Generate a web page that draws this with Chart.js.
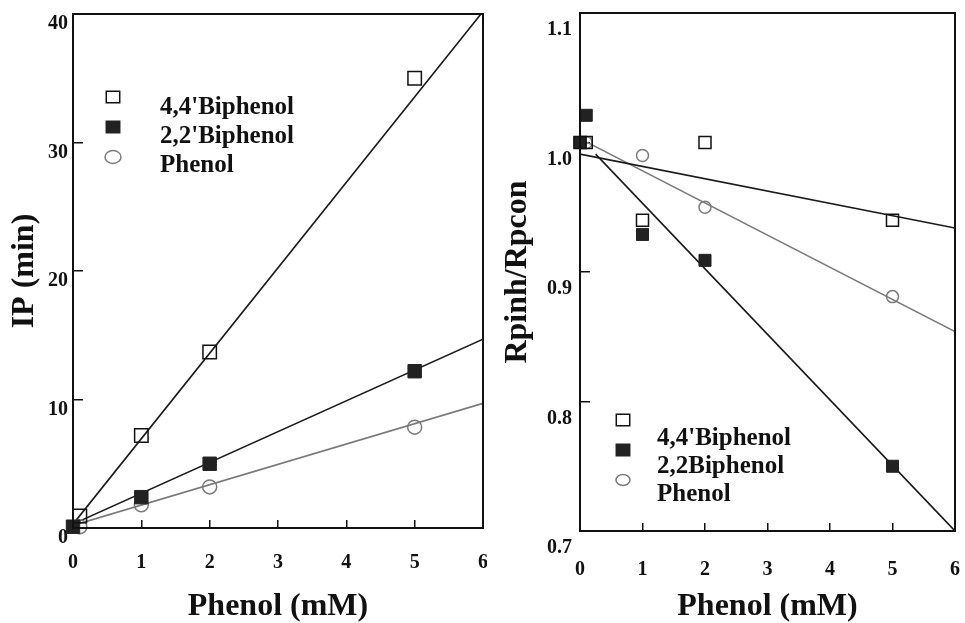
<!DOCTYPE html>
<html>
<head>
<meta charset="utf-8">
<script src="https://cdn.jsdelivr.net/npm/chart.js@4.4.1/dist/chart.umd.min.js"></script>
<style>
  html, body { margin: 0; padding: 0; background: #fff; }
  canvas { position: absolute; top: 0; }
  #left { left: 0; }
  #right { left: 487px; }
</style>
</head>
<body>
<canvas id="left" width="487" height="623"></canvas>
<canvas id="right" width="478" height="623"></canvas>
<script>
// ---- data: left panel, induction period (min) vs phenol concentration (mM)
const ipDoses44 = [0.1, 1, 2, 5];
const ipValues44 = [0.93, 7.2, 13.7, 35.0];
const ipDoses22 = [0, 1, 2, 5];
const ipValues22 = [0.1, 2.4, 5.0, 12.2];
const ipDosesPh = [0.1, 1, 2, 5];
const ipValuesPh = [0.1, 1.8, 3.2, 7.85];
// fitted lines, [x, y] end points
const ipFit44 = [[0, 0.3], [6, 40.2]];
const ipFit22 = [[0, 0.3], [6, 14.7]];
const ipFitPh = [[0, 0.2], [6, 9.7]];
const ipLabels = ["4,4'Biphenol", "2,2'Biphenol", 'Phenol'];

// ---- data: right panel, Rpinh/Rpcon vs phenol concentration (mM)
const rDoses44 = [0, 0.1, 1, 2, 5];
const rValues44 = [1.0, 1.0, 0.94, 1.0, 0.94];
const rDoses22 = [0, 0.1, 1, 2, 5];
const rValues22 = [1.0, 1.021, 0.929, 0.909, 0.75];
const rDosesPh = [0.1, 1, 2, 5];
const rValuesPh = [1.0, 0.99, 0.95, 0.881];
const rFit44 = [[0, 0.991], [6, 0.934]];
const rFit22 = [[0.25, 0.991], [6, 0.70]];
const rFitPh = [[0, 1.003], [6, 0.854]];
const rLabels = ["4,4'Biphenol", '2,2Biphenol', 'Phenol'];

const xTickValues = [0, 1, 2, 3, 4, 5, 6];

const SERIF = "'Liberation Serif', 'Times New Roman', serif";
const INK = '#111';
const GREY = '#7a7a7a';

const toPoints = (xs, ys) => xs.map((x, i) => ({ x, y: ys[i] }));
const toLine = (pairs) => pairs.map(([x, y]) => ({ x, y }));

function markerSets(labels, d44, v44, d22, v22, dPh, vPh, sq, circ) {
    return [
        { label: labels[0], data: toPoints(d44, v44), pointStyle: 'rect', pointRadius: sq,
          backgroundColor: 'rgba(0,0,0,0)', borderColor: INK, borderWidth: 1.5, clip: false },
        { label: labels[1], data: toPoints(d22, v22), pointStyle: 'rect', pointRadius: sq,
          backgroundColor: '#222', borderColor: '#222', borderWidth: 1, clip: false },
        { label: labels[2], data: toPoints(dPh, vPh), pointStyle: 'circle', pointRadius: circ,
          backgroundColor: 'rgba(0,0,0,0)', borderColor: GREY, borderWidth: 1.5, clip: false }
    ];
}

function fitSets(f44, f22, fPh) {
    return [f44, f22, fPh].map((f, i) => ({
        label: 'fit' + i,
        data: toLine(f),
        showLine: true,
        pointRadius: 0,
        borderColor: i === 2 ? GREY : '#1a1a1a',
        borderWidth: 1.6
    }));
}

// box around the plot area
const framePlugin = {
    id: 'frame',
    afterDraw(chart) {
        const { ctx, chartArea: a } = chart;
        ctx.save();
        ctx.strokeStyle = INK;
        ctx.lineWidth = 2;
        ctx.strokeRect(a.left, a.top, a.right - a.left, a.bottom - a.top);
        ctx.restore();
    }
};

// legend drawn inside the plot, markers offset above the text lines
const sideLegend = {
    id: 'sideLegend',
    afterDatasetsDraw(chart, args, opts) {
        const ctx = chart.ctx;
        ctx.save();
        for (let i = 0; i < 3; i++) {
            const ds = chart.data.datasets[i];
            const x = opts.markerX, y = opts.markerY[i], r = opts.markerR[i];
            ctx.beginPath();
            if (ds.pointStyle === 'rect') {
                const h = r * Math.SQRT1_2;
                ctx.rect(x - h, y - h * 0.85, 2 * h, 2 * h * 0.85);
            } else {
                ctx.ellipse(x, y, r, r * 0.8, 0, 0, Math.PI * 2);
            }
            ctx.fillStyle = ds.backgroundColor;
            ctx.strokeStyle = ds.borderColor;
            ctx.lineWidth = 1.5;
            ctx.fill();
            ctx.stroke();

            ctx.fillStyle = INK;
            ctx.font = 'bold ' + opts.fontSize + 'px ' + SERIF;
            ctx.textBaseline = 'middle';
            ctx.textAlign = 'left';
            ctx.fillText(ds.label, opts.textX, opts.textY[i]);
        }
        ctx.restore();
    }
};

// tick marks point into the plot (negative tickLength); label gaps come from padding,
// so the scale's own end paddings are reset to keep the plot area where it belongs
function axisX(height, pad) {
    return {
        type: 'linear', min: 0, max: 6,
        afterBuildTicks: (s) => { s.ticks = xTickValues.map(v => ({ value: v })); },
        ticks: { color: INK, font: { family: SERIF, size: 20, weight: 'bold' }, padding: pad },
        grid: { drawOnChartArea: false, tickLength: -8, color: INK, lineWidth: 1.5 },
        border: { color: INK, width: 2 },
        title: { display: true, text: 'Phenol (mM)', color: INK, padding: 0,
                 font: { family: SERIF, size: 32, weight: 'bold', lineHeight: 1 } },
        afterFit: (s) => { s.height = height; s.paddingLeft = 0; s.paddingRight = 0; }
    };
}

function axisY(min, max, step, width, title, titlePad, labelOffset, pad, fmt) {
    return {
        type: 'linear', min, max,
        ticks: { stepSize: step, color: INK, labelOffset, padding: pad,
                 font: { family: SERIF, size: 20, weight: 'bold' }, callback: fmt },
        grid: { drawOnChartArea: false, tickLength: -10, color: INK, lineWidth: 1.5 },
        border: { color: INK, width: 2 },
        title: { display: true, text: title, color: INK, padding: { top: titlePad },
                 font: { family: SERIF, size: 32, weight: 'bold', lineHeight: 1 } },
        afterFit: (s) => { s.width = width; s.paddingTop = 0; s.paddingBottom = 0; }
    };
}

const common = {
    responsive: false,
    animation: false,
    events: [],
    plugins: { legend: { display: false }, tooltip: { enabled: false } }
};

new Chart(document.getElementById('left'), {
    type: 'scatter',
    data: {
        datasets: markerSets(ipLabels, ipDoses44, ipValues44, ipDoses22, ipValues22,
                             ipDosesPh, ipValuesPh, 9.5, 7)
            .concat(fitSets(ipFit44, ipFit22, ipFitPh))
    },
    options: {
        ...common,
        layout: { autoPadding: false, padding: { top: 14, right: 4, bottom: 0, left: 0 } },
        scales: {
            x: axisX(95, 31),
            y: axisY(0, 40, 10, 73, 'IP (min)', 9, 10, 15, (v) => v)
        },
        plugins: {
            ...common.plugins,
            sideLegend: { markerX: 113, markerY: [97, 127, 157], markerR: [9.5, 9.5, 8],
                          textX: 160, textY: [108, 137, 166], fontSize: 25 }
        }
    },
    plugins: [framePlugin, sideLegend]
});

new Chart(document.getElementById('right'), {
    type: 'scatter',
    data: {
        datasets: markerSets(rLabels, rDoses44, rValues44, rDoses22, rValues22,
                             rDosesPh, rValuesPh, 8.5, 6)
            .concat(fitSets(rFit44, rFit22, rFitPh))
    },
    options: {
        ...common,
        layout: { autoPadding: false, padding: { top: 13, right: 10, bottom: 0, left: 0 } },
        scales: {
            x: axisX(92, 35),
            y: axisY(0.7, 1.1, 0.1, 93, 'Rpinh/Rpcon', 15, 17, 18, (v) => v.toFixed(1))
        },
        plugins: {
            ...common.plugins,
            sideLegend: { markerX: 136, markerY: [420, 450, 480], markerR: [9.5, 9.5, 7],
                          textX: 170, textY: [439, 467, 495], fontSize: 25 }
        }
    },
    plugins: [framePlugin, sideLegend]
});
</script>
</body>
</html>
